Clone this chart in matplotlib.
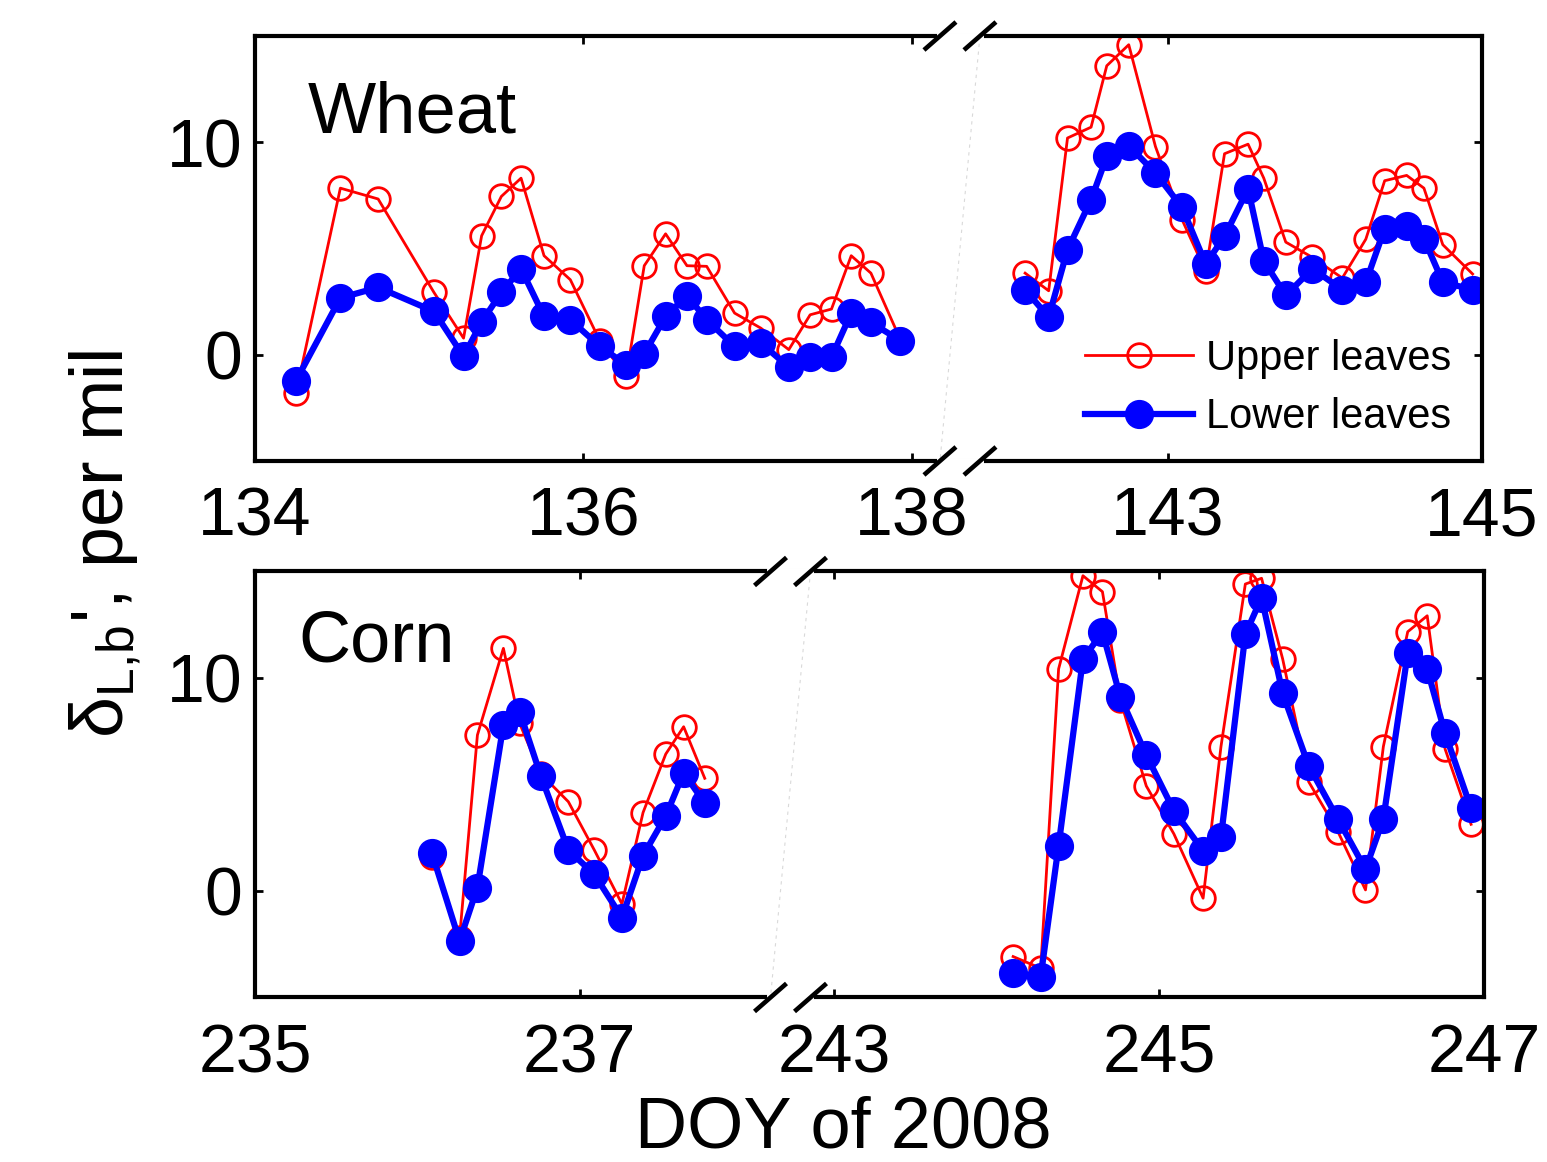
import numpy as np
import matplotlib
matplotlib.use("Agg")
import matplotlib.pyplot as plt

plt.rcParams["font.family"] = ["Liberation Sans", "DejaVu Sans"]
plt.rcParams["mathtext.default"] = "regular"

# ============================================================
# DATA (DOY of 2008, delta values in per mil)
# ============================================================

# Wheat, first run (DOY 134-138)
wheat_x_a = [134.25, 134.52, 134.75, 135.09, 135.27, 135.38, 135.50, 135.62,
             135.76, 135.92, 136.10, 136.26, 136.37, 136.50, 136.63, 136.75,
             136.92, 137.08, 137.25, 137.38, 137.51, 137.63, 137.75, 137.93]
wheat_upper_a = [-1.80, 7.84, 7.33, 2.93, 0.78, 5.60, 7.45, 8.31, 4.66, 3.53,
                 0.65, -1.02, 4.19, 5.69, 4.19, 4.16, 1.96, 1.25, 0.24, 1.88,
                 2.15, 4.66, 3.84, 0.70]
wheat_lower_a = [-1.22, 2.67, 3.17, 2.04, -0.08, 1.54, 2.93, 4.05, 1.80, 1.65,
                 0.39, -0.47, 0.05, 1.80, 2.78, 1.65, 0.39, 0.55, -0.58, -0.11,
                 -0.11, 1.96, 1.52, 0.66]

# Wheat, second run (DOY 142-145)
wheat_x_b = [142.09, 142.24, 142.36, 142.51, 142.61, 142.75, 142.92, 143.09,
             143.24, 143.36, 143.51, 143.61, 143.75, 143.92, 144.11, 144.26,
             144.38, 144.52, 144.63, 144.75, 144.94]
wheat_upper_b = [3.84, 3.01, 10.20, 10.71, 13.60, 14.59, 9.80, 6.35, 3.92, 9.46,
                 9.91, 8.31, 5.30, 4.58, 3.61, 5.44, 8.19, 8.44, 7.84, 5.18, 3.80]
wheat_lower_b = [3.06, 1.77, 4.94, 7.29, 9.33, 9.84, 8.55, 6.93, 4.27, 5.57,
                 7.81, 4.42, 2.79, 4.05, 3.06, 3.42, 5.93, 6.04, 5.46, 3.42, 3.06]

# Corn, first run (DOY 236-238)
corn_x_a = [236.09, 236.26, 236.37, 236.53, 236.63, 236.76, 236.93, 237.09,
            237.26, 237.39, 237.53, 237.64, 237.77]
corn_upper_a = [1.60, -2.20, 7.32, 11.39, 7.87, 5.50, 4.19, 1.92, -0.61, 3.68,
                6.43, 7.71, 5.29]
corn_lower_a = [1.77, -2.35, 0.16, 7.79, 8.42, 5.41, 1.92, 0.78, -1.25, 1.66,
                3.52, 5.55, 4.12]

# Corn, second run (DOY 244-247)
corn_x_b = [244.10, 244.27, 244.38, 244.53, 244.65, 244.76, 244.92, 245.09,
            245.27, 245.38, 245.53, 245.63, 245.76, 245.92, 246.10, 246.27,
            246.38, 246.53, 246.65, 246.76, 246.92]
corn_upper_b = [-3.08, -3.63, 10.42, 14.80, 14.05, 8.97, 4.93, 2.68, -0.34, 6.78,
                14.41, 14.68, 10.89, 5.13, 2.79, 0.05, 6.78, 12.17, 12.92, 6.67, 3.13]
corn_lower_b = [-3.87, -4.02, 2.13, 10.89, 12.15, 9.12, 6.38, 3.77, 1.89, 2.52,
                12.05, 13.77, 9.28, 5.88, 3.38, 1.02, 3.38, 11.16, 10.41, 7.40, 3.88]

wheat_ticks = [134, 136, 138, 143, 145]
corn_ticks = [235, 237, 243, 245, 247]
y_ticks = [0, 10]

# ============================================================
# BROKEN X SCALE
# ============================================================

def make_break_scale(x0, brk_lo, brk_hi, s_left, s_right):
    u_brk = (brk_lo - x0) * s_left

    def forward(x):
        x = np.asarray(x, dtype=float)
        return (np.minimum(x, brk_lo) - x0) * s_left + np.maximum(x - brk_hi, 0) * s_right

    def inverse(u):
        u = np.asarray(u, dtype=float)
        return np.where(u <= u_brk, x0 + u / s_left, brk_hi + (u - u_brk) / s_right)

    return forward, inverse


RED = dict(color="red", lw=2, marker="o", ms=17, mfc="none", mew=2)
BLUE = dict(color="blue", lw=4.5, marker="o", ms=20)
GAP_PX = 40


def draw_panel(ax, runs, xlim, ticks, brk, name, name_pos):
    fwd, inv = make_break_scale(xlim[0], brk[0], brk[1], brk[2], brk[3])
    ax.set_xscale("function", functions=(fwd, inv))
    for i, (x, up, lo) in enumerate(runs):
        ax.plot(x, up, label="Upper leaves" if i == 0 else None, **RED)
        ax.plot(x, lo, label="Lower leaves" if i == 0 else None, **BLUE)
    ax.set_xlim(*xlim)
    ax.set_ylim(-5, 15)
    ax.set_xticks(ticks)
    ax.set_xticklabels([str(t) for t in ticks])
    ax.set_yticks(y_ticks)
    ax.tick_params(direction="in", length=6, width=2, top=True, right=True,
                   labelsize=49)
    ax.tick_params(axis="x", pad=18)
    ax.tick_params(axis="y", pad=9)
    for s in ax.spines.values():
        s.set_linewidth(3)
    ax.text(name_pos[0], name_pos[1], name, transform=ax.transAxes,
            fontsize=52, va="baseline", ha="left")

    # break marks on top and bottom spines
    width_px = ax.get_position().width * fig.get_figwidth() * fig.dpi
    height_px = ax.get_position().height * fig.get_figheight() * fig.dpi
    c = float(fwd(brk[0]) / fwd(xlim[1]))
    half = GAP_PX / 2 / width_px
    dx = 16 / width_px
    dy = 14 / height_px
    for yy in (0, 1):
        ax.plot([c - half, c + half], [yy, yy], color="white", lw=5,
                transform=ax.transAxes, clip_on=False, zorder=5)
        for xc in (c - half, c + half):
            ax.plot([xc - dx, xc + dx], [yy - dy, yy + dy], color="black",
                    lw=3.3, transform=ax.transAxes, clip_on=False, zorder=6,
                    solid_capstyle="butt")
    ax.plot([c + half, c - half], [1, 0], color="0.85", lw=0.8, ls=(0, (3, 4)),
            transform=ax.transAxes, zorder=1)


# ============================================================
# FIGURE
# ============================================================

fig = plt.figure(figsize=(15.47, 11.62), dpi=100)
ax_w = fig.add_axes([0.1648, 0.6033, 0.7932, 0.3657])
ax_c = fig.add_axes([0.1648, 0.1416, 0.7945, 0.3666])

draw_panel(ax_w,
           [(wheat_x_a, wheat_upper_a, wheat_lower_a),
            (wheat_x_b, wheat_upper_b, wheat_lower_b)],
           (134, 145), wheat_ticks, (138.292, 141.675, 164.25, 157.0),
           "Wheat", (0.043, 0.772))
draw_panel(ax_c,
           [(corn_x_a, corn_upper_a, corn_lower_a),
            (corn_x_b, corn_upper_b, corn_lower_b)],
           (235, 247), corn_ticks, (238.298, 242.729, 162.5, 162.5),
           "Corn", (0.035, 0.788))

ax_w.legend(loc="center left", bbox_to_anchor=(0.6765, 0.172), frameon=False,
            fontsize=30, handlelength=2.6, handletextpad=0.3, labelspacing=0.45,
            borderpad=0, borderaxespad=0, numpoints=1)

fig.text(0.545, 0.0, "DOY of 2008", fontsize=52, ha="center", va="bottom")
fig.text(0.068, 0.532, r"$\delta_{L{,}b}$', per mil", fontsize=53, rotation=90,
         ha="center", va="center")

fig.savefig("out.png", dpi=100)
